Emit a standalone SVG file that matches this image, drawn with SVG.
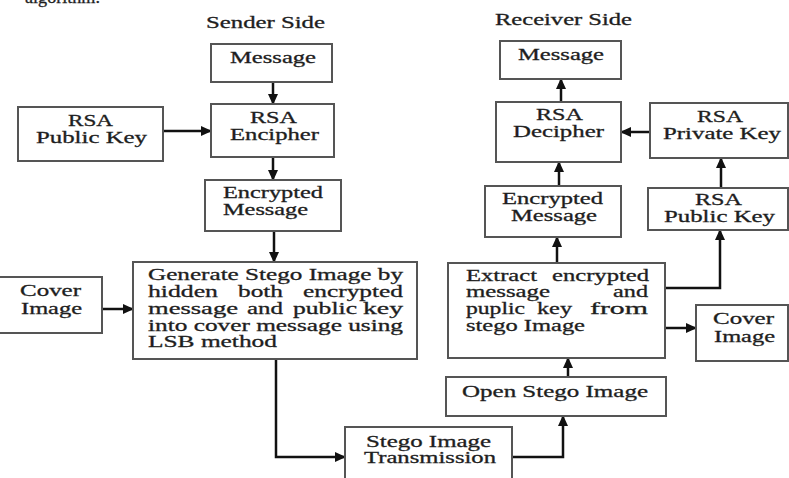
<svg xmlns="http://www.w3.org/2000/svg" width="789" height="478" viewBox="0 0 789 478">
<style>
text{font-family:"Liberation Serif","Times New Roman",serif;font-size:16.5px;fill:#1e1e1e;stroke:#1e1e1e;stroke-width:0.3;}
.box{fill:#fff;stroke:#555;stroke-width:2;}
.c{fill:none;stroke:#111;stroke-width:2.5;}
</style>
<defs>
<marker id="ah" markerUnits="userSpaceOnUse" markerWidth="12" markerHeight="10" refX="10" refY="5" orient="auto">
<path d="M0,0 L11,5 L0,10 Z" fill="#111"/>
</marker>
</defs>
<rect width="789" height="478" fill="#fff"/>
<text x="25" y="3" textLength="75" lengthAdjust="spacingAndGlyphs">algorithm.</text>
<text x="206" y="28" textLength="119" lengthAdjust="spacingAndGlyphs">Sender Side</text>
<text x="495" y="25" textLength="137" lengthAdjust="spacingAndGlyphs">Receiver Side</text>

<g id="connectors">
<line class="c" x1="273" y1="82" x2="273" y2="104" marker-end="url(#ah)"/>
<line class="c" x1="163" y1="131" x2="211" y2="131" marker-end="url(#ah)"/>
<line class="c" x1="273" y1="157" x2="273" y2="180" marker-end="url(#ah)"/>
<line class="c" x1="274" y1="231" x2="274" y2="262" marker-end="url(#ah)"/>
<line class="c" x1="102" y1="309" x2="133" y2="309" marker-end="url(#ah)"/>
<path class="c" d="M276 359 V457 H345" marker-end="url(#ah)"/>
<path class="c" d="M512 457 H563 V416" marker-end="url(#ah)"/>
<line class="c" x1="568" y1="377" x2="568" y2="358" marker-end="url(#ah)"/>
<line class="c" x1="664" y1="328" x2="696" y2="328" marker-end="url(#ah)"/>
<path class="c" d="M665 288 H720 V230" marker-end="url(#ah)"/>
<line class="c" x1="557" y1="263" x2="557" y2="237" marker-end="url(#ah)"/>
<line class="c" x1="559" y1="186" x2="559" y2="162" marker-end="url(#ah)"/>
<line class="c" x1="721" y1="188" x2="721" y2="158" marker-end="url(#ah)"/>
<line class="c" x1="650" y1="132" x2="621" y2="132" marker-end="url(#ah)"/>
<line class="c" x1="561" y1="102" x2="561" y2="79" marker-end="url(#ah)"/>
</g>

<g id="s-message">
<rect class="box" x="211" y="44" width="121" height="38"/>
<text x="230" y="63" textLength="86" lengthAdjust="spacingAndGlyphs">Message</text>
</g>
<g id="s-encipher">
<rect class="box" x="211" y="104" width="123" height="53"/>
<text x="250" y="123" textLength="47" lengthAdjust="spacingAndGlyphs">RSA</text>
<text x="230" y="140" textLength="89" lengthAdjust="spacingAndGlyphs">Encipher</text>
</g>
<g id="s-pubkey">
<rect class="box" x="18" y="107" width="145" height="54"/>
<text x="68" y="126" textLength="45" lengthAdjust="spacingAndGlyphs">RSA</text>
<text x="36" y="143" textLength="111" lengthAdjust="spacingAndGlyphs">Public Key</text>
</g>
<g id="s-encrypted">
<rect class="box" x="205" y="180" width="136" height="51"/>
<text x="223" y="198" textLength="100" lengthAdjust="spacingAndGlyphs">Encrypted</text>
<text x="223" y="215" textLength="85" lengthAdjust="spacingAndGlyphs">Message</text>
</g>
<g id="s-cover">
<rect class="box" x="-2" y="277" width="104" height="56"/>
<text x="20" y="296" textLength="61" lengthAdjust="spacingAndGlyphs">Cover</text>
<text x="21" y="314" textLength="61" lengthAdjust="spacingAndGlyphs">Image</text>
</g>
<g id="s-generate">
<rect class="box" x="133" y="262" width="284" height="97"/>
<text x="148" y="280" textLength="255" lengthAdjust="spacingAndGlyphs">Generate Stego Image by</text>
<text x="148" y="297" textLength="70" lengthAdjust="spacingAndGlyphs">hidden</text>
<text x="238" y="297" textLength="45" lengthAdjust="spacingAndGlyphs">both</text>
<text x="303" y="297" textLength="100" lengthAdjust="spacingAndGlyphs">encrypted</text>
<text x="148" y="314" textLength="90" lengthAdjust="spacingAndGlyphs">message</text>
<text x="247" y="314" textLength="36" lengthAdjust="spacingAndGlyphs">and</text>
<text x="293" y="314" textLength="64" lengthAdjust="spacingAndGlyphs">public</text>
<text x="363" y="314" textLength="40" lengthAdjust="spacingAndGlyphs">key</text>
<text x="148" y="331" textLength="255" lengthAdjust="spacingAndGlyphs">into cover message using</text>
<text x="148" y="347" textLength="129" lengthAdjust="spacingAndGlyphs">LSB method</text>
</g>
<g id="transmission">
<rect class="box" x="345" y="427" width="167" height="60"/>
<text x="366" y="447" textLength="125" lengthAdjust="spacingAndGlyphs">Stego Image</text>
<text x="364" y="463" textLength="132" lengthAdjust="spacingAndGlyphs">Transmission</text>
</g>

<g id="r-message">
<rect class="box" x="500" y="41" width="121" height="38"/>
<text x="518" y="60" textLength="86" lengthAdjust="spacingAndGlyphs">Message</text>
</g>
<g id="r-decipher">
<rect class="box" x="496" y="102" width="125" height="60"/>
<text x="536" y="120" textLength="47" lengthAdjust="spacingAndGlyphs">RSA</text>
<text x="513" y="137" textLength="91" lengthAdjust="spacingAndGlyphs">Decipher</text>
</g>
<g id="r-privkey">
<rect class="box" x="650" y="103" width="138" height="55"/>
<text x="697" y="122" textLength="46" lengthAdjust="spacingAndGlyphs">RSA</text>
<text x="663" y="139" textLength="118" lengthAdjust="spacingAndGlyphs">Private Key</text>
</g>
<g id="r-encrypted">
<rect class="box" x="485" y="186" width="136" height="51"/>
<text x="502" y="204" textLength="101" lengthAdjust="spacingAndGlyphs">Encrypted</text>
<text x="511" y="221" textLength="86" lengthAdjust="spacingAndGlyphs">Message</text>
</g>
<g id="r-pubkey">
<rect class="box" x="648" y="188" width="140" height="42"/>
<text x="695" y="205" textLength="47" lengthAdjust="spacingAndGlyphs">RSA</text>
<text x="664" y="222" textLength="111" lengthAdjust="spacingAndGlyphs">Public Key</text>
</g>
<g id="r-extract">
<rect class="box" x="448" y="263" width="217" height="95"/>
<text x="466" y="281" textLength="71" lengthAdjust="spacingAndGlyphs">Extract</text>
<text x="552" y="281" textLength="97" lengthAdjust="spacingAndGlyphs">encrypted</text>
<text x="466" y="297" textLength="84" lengthAdjust="spacingAndGlyphs">message</text>
<text x="613" y="297" textLength="35" lengthAdjust="spacingAndGlyphs">and</text>
<text x="466" y="314" textLength="59" lengthAdjust="spacingAndGlyphs">puplic</text>
<text x="537" y="314" textLength="35" lengthAdjust="spacingAndGlyphs">key</text>
<text x="590" y="314" textLength="58" lengthAdjust="spacingAndGlyphs">from</text>
<text x="466" y="331" textLength="119" lengthAdjust="spacingAndGlyphs">stego Image</text>
</g>
<g id="r-cover">
<rect class="box" x="696" y="305" width="92" height="56"/>
<text x="713" y="324" textLength="61" lengthAdjust="spacingAndGlyphs">Cover</text>
<text x="714" y="342" textLength="61" lengthAdjust="spacingAndGlyphs">Image</text>
</g>
<g id="r-open">
<rect class="box" x="446" y="377" width="220" height="39"/>
<text x="462" y="397" textLength="186" lengthAdjust="spacingAndGlyphs">Open Stego Image</text>
</g>
</svg>
